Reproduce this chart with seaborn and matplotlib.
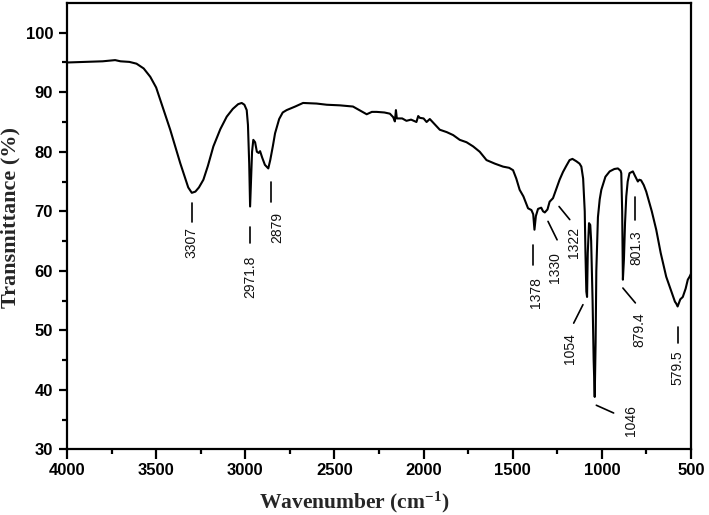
import matplotlib
matplotlib.use("Agg")
import matplotlib.pyplot as plt
from matplotlib import font_manager
import pandas as pd
import seaborn as sns

# FTIR spectrum (wavenumber in cm-1, transmittance in %)
wavenumber = [
    4000, 3900, 3800, 3730, 3700, 3650, 3610, 3570, 3533, 3500, 3477, 3450,
    3421, 3390, 3365, 3340, 3320, 3300, 3280, 3260, 3235, 3210, 3179, 3140,
    3104, 3070, 3040, 3020, 3005, 2992, 2985, 2978, 2973, 2968, 2962, 2955,
    2945, 2935, 2925, 2917, 2905, 2890, 2871, 2860, 2845, 2833, 2810, 2790,
    2768, 2720, 2676, 2600, 2543, 2470, 2396, 2360, 2319, 2290, 2263, 2220,
    2189, 2170, 2161, 2155, 2150, 2120, 2096, 2070, 2040, 2030, 2021, 2000,
    1983, 1965, 1950, 1909, 1870, 1834, 1797, 1759, 1722, 1685, 1647, 1600,
    1554, 1520, 1498, 1480, 1461, 1440, 1414, 1395, 1385, 1378, 1370, 1358,
    1340, 1330, 1320, 1305, 1293, 1274, 1237, 1218, 1200, 1181, 1165, 1143,
    1125, 1115, 1105, 1096, 1092, 1087, 1083, 1079, 1072, 1065, 1060, 1052,
    1046, 1040, 1035, 1031, 1022, 1012, 1003, 980, 956, 930, 910, 895,
    891, 886, 882, 876, 870, 863, 855, 845, 826, 815, 798, 790,
    780, 765, 751, 720, 695, 670, 639, 610, 590, 583, 575, 560,
    546, 530, 518, 508, 500,
]
transmittance = [
    95.0, 95.1, 95.2, 95.4, 95.2, 95.1, 94.8, 94.0, 92.6, 90.8, 88.7, 86.3,
    83.7, 80.6, 78.1, 75.8, 74.0, 73.1, 73.3, 74.0, 75.3, 77.6, 80.9, 83.8,
    85.9, 87.2, 88.0, 88.2, 87.9, 87.0, 84.5, 78.0, 70.8, 75.0, 80.0, 82.0,
    81.6, 80.0, 79.8, 80.1, 79.0, 77.8, 77.2, 78.6, 81.0, 83.1, 85.5, 86.6,
    87.0, 87.6, 88.2, 88.1, 87.9, 87.8, 87.6, 87.0, 86.3, 86.7, 86.7, 86.6,
    86.4, 85.8, 85.1, 87.0, 85.6, 85.6, 85.2, 85.4, 85.0, 86.0, 85.7, 85.6,
    85.0, 85.5, 85.0, 83.7, 83.3, 82.8, 82.0, 81.6, 80.9, 80.0, 78.6, 78.0,
    77.5, 77.3, 76.9, 75.5, 73.6, 72.5, 70.5, 70.2, 69.5, 66.9, 69.2, 70.4,
    70.6, 70.0, 69.8, 70.3, 71.6, 72.2, 75.3, 76.6, 77.6, 78.6, 78.8, 78.4,
    78.0, 77.5, 75.5, 70.0, 63.0, 56.5, 55.6, 63.0, 68.0, 67.7, 65.0, 55.0,
    45.0, 38.8, 48.0, 60.0, 69.0, 72.0, 73.6, 75.8, 76.7, 77.1, 77.2, 76.8,
    76.4, 70.0, 58.5, 62.0, 68.0, 72.5, 75.0, 76.4, 76.7, 76.0, 75.0, 75.3,
    75.2, 74.4, 73.3, 70.0, 66.9, 63.0, 59.0, 56.5, 54.8, 54.5, 54.0, 55.2,
    55.6, 57.0, 58.5, 59.0, 59.5,
]

# peak annotations: label text, text position, marker line start/end
peak_labels = ["3307", "2971.8", "2879", "1378", "1330", "1322",
               "1054", "1046", "879.4", "801.3", "579.5"]
label_x = [3304, 2973, 2822, 1367, 1265, 1157, 1181, 835, 788, 807, 574]
label_y = [64.7, 59.0, 67.2, 56.4, 60.5, 64.8, 47.0, 34.8, 50.1, 63.8, 43.7]
line_x0 = [3300, 2973, 2857, 1386, 1302, 1240, 1106, 1031, 882, 812, 574]
line_y0 = [71.4, 67.4, 75.0, 64.3, 68.3, 70.8, 54.3, 37.4, 57.1, 72.4, 50.6]
line_x1 = [3300, 2973, 2857, 1386, 1251, 1180, 1158, 934, 812, 812, 574]
line_y1 = [68.2, 64.7, 71.6, 61.0, 65.2, 68.6, 51.2, 36.1, 54.6, 68.6, 47.9]

sns.set_style("ticks")
plt.rcParams["font.family"] = ["Liberation Sans", "DejaVu Sans"]
plt.rcParams["mathtext.default"] = "regular"

installed = {f.name for f in font_manager.fontManager.ttflist}
narrow = "Liberation Sans Narrow" if "Liberation Sans Narrow" in installed else "Liberation Sans"

df = pd.DataFrame({"wavenumber": wavenumber, "transmittance": transmittance})

fig = plt.figure(figsize=(7.09, 5.15), dpi=100)
ax = fig.add_axes([0.0945, 0.1276, 0.8801, 0.8666])

sns.lineplot(data=df, x="wavenumber", y="transmittance", color="black",
             linewidth=1.5, estimator=None, ax=ax)

for i, txt in enumerate(peak_labels):
    ax.plot([line_x0[i], line_x1[i]], [line_y0[i], line_y1[i]],
            color="black", linewidth=1.2)
    ax.text(label_x[i], label_y[i], txt, rotation=90, ha="center", va="center",
            fontsize=10, family=narrow, color="#111111")

ax.set_xlim(4000, 500)
ax.set_ylim(30, 105)
ax.set_xticks([4000, 3500, 3000, 2500, 2000, 1500, 1000, 500])
ax.set_xticks(range(3750, 500, -500), minor=True)
ax.set_yticks([30, 40, 50, 60, 70, 80, 90, 100])
ax.set_yticks([35, 45, 55, 65, 75, 85, 95], minor=True)

for side in ["top", "right", "bottom", "left"]:
    ax.spines[side].set_visible(True)
    ax.spines[side].set_linewidth(1.6)
    ax.spines[side].set_color("black")

ax.tick_params(which="major", width=1.6, labelsize=12, colors="black")
ax.tick_params(axis="x", which="major", length=7, pad=3)
ax.tick_params(axis="y", which="major", length=6, pad=4)
ax.tick_params(which="minor", length=3.5, width=1.6, colors="black")
ax.tick_params(top=False, right=False)
for lbl in ax.get_xticklabels() + ax.get_yticklabels():
    lbl.set_fontweight("bold")

ax.set_xlabel("Wavenumber (cm$^{-1}$)", family="Liberation Serif",
              fontsize=15.5, fontweight="bold")
ax.set_ylabel("Transmittance (%)", family="Liberation Serif",
              fontsize=16, fontweight="bold")
ax.xaxis.set_label_coords(0.46, -0.09)
ax.yaxis.set_label_coords(-0.075, 0.519)

fig.savefig("out.png", dpi=100)
plt.close(fig)
